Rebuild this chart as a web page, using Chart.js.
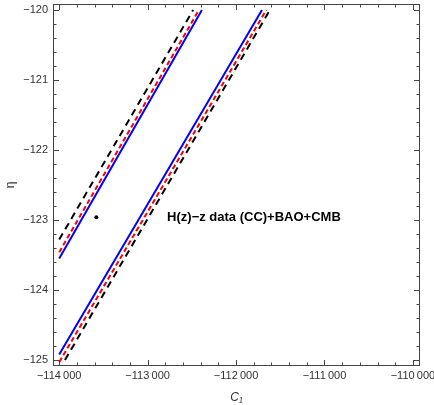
<!DOCTYPE html>
<html>
<head>
<meta charset="utf-8">
<script src="https://cdn.jsdelivr.net/npm/chart.js@4/dist/chart.umd.min.js"></script>
<style>
  html, body { margin: 0; padding: 0; background: #fff; }
  #wrap { width: 434px; height: 405px; }
</style>
</head>
<body>
<div id="wrap"><canvas id="grafico"></canvas></div>
<script>
// eixos
const xRange = [-114070, -109920];
const yRange = [-125.085, -119.915];
const xTicks = [-114000, -113000, -112000, -111000, -110000];
const yTicks = [-125, -124, -123, -122, -121, -120];

// faixa esquerda
const esqAzul = [[-114000, -123.55], [-112386, -120]];
const esqVermelho = [[-114000, -123.46], [-112420, -120]];
const esqPreto = [[-114000, -123.28], [-112485, -120]];

// faixa direita
const dirAzul = [[-114000, -124.92], [-111707, -120]];
const dirVermelho = [[-114000, -125.03], [-111658, -120]];
const dirPreto = [[-113935, -125.0], [-111617, -120]];

// ponto e legenda
const ponto = [[-113580, -122.96]];
const rotulo = { texto: 'H(z)\u2212z data (CC)+BAO+CMB', x: -112780, y: -122.97 };

const pts = arr => arr.map(([x, y]) => ({ x, y }));

function formatar(v) {
  const abs = Math.abs(v);
  let s = String(abs);
  if (abs >= 10000) s = s.replace(/\B(?=(\d{3})+(?!\d))/g, '\u2009');
  return (v < 0 ? '\u2212' : '') + s;
}

function linha(dados, cor, dash) {
  return {
    type: 'line',
    data: pts(dados),
    borderColor: cor,
    borderWidth: 2,
    borderDash: dash,
    pointRadius: 0,
    fill: false,
    tension: 0
  };
}

function semPadding(s) {
  s.paddingTop = 0;
  s.paddingBottom = 0;
  s.paddingLeft = 0;
  s.paddingRight = 0;
}

// moldura com marcas internas (estilo Mathematica)
const moldura = {
  id: 'moldura',
  afterDraw(chart) {
    const { ctx, chartArea: a, scales: { x, y } } = chart;
    ctx.save();
    ctx.strokeStyle = '#444';
    ctx.lineWidth = 1;
    ctx.strokeRect(a.left + 0.5, a.top + 0.5, a.right - a.left - 1, a.bottom - a.top - 1);

    ctx.beginPath();
    for (let v = -114000; v <= -110000; v += 200) {
      const px = Math.round(x.getPixelForValue(v)) + 0.5;
      const len = v % 1000 === 0 ? 6 : 3.5;
      ctx.moveTo(px, a.bottom); ctx.lineTo(px, a.bottom - len);
      ctx.moveTo(px, a.top); ctx.lineTo(px, a.top + len);
    }
    for (let i = -1250; i <= -1200; i += 2) {
      const v = i / 10;
      const py = Math.round(y.getPixelForValue(v)) + 0.5;
      const len = i % 10 === 0 ? 6 : 3.5;
      ctx.moveTo(a.left, py); ctx.lineTo(a.left + len, py);
      ctx.moveTo(a.right, py); ctx.lineTo(a.right - len, py);
    }
    ctx.stroke();

    ctx.fillStyle = '#000';
    ctx.font = 'bold 13px "Liberation Sans", Arial, sans-serif';
    ctx.textAlign = 'left';
    ctx.textBaseline = 'middle';
    ctx.fillText(rotulo.texto, x.getPixelForValue(rotulo.x), y.getPixelForValue(rotulo.y));
    ctx.restore();
  }
};

new Chart(document.getElementById('grafico'), {
  type: 'scatter',
  data: {
    datasets: [
      linha(esqPreto, '#000', [7, 5]),
      linha(esqVermelho, '#ff0000', [5, 3]),
      linha(esqAzul, '#0000ff', []),
      linha(dirPreto, '#000', [7, 5]),
      linha(dirVermelho, '#ff0000', [5, 3]),
      linha(dirAzul, '#0000ff', []),
      {
        type: 'scatter',
        data: pts(ponto),
        backgroundColor: '#000',
        borderWidth: 0,
        pointRadius: 2
      }
    ]
  },
  options: {
    responsive: true,
    maintainAspectRatio: false,
    animation: false,
    layout: { padding: { top: 0, right: 14, bottom: 0, left: 0 } },
    plugins: {
      legend: { display: false },
      tooltip: { enabled: false }
    },
    scales: {
      x: {
        type: 'linear',
        min: xRange[0],
        max: xRange[1],
        afterFit: s => { s.height = 39; semPadding(s); },
        afterBuildTicks: s => { s.ticks = xTicks.map(v => ({ value: v })); },
        grid: { display: false, drawTicks: false },
        border: { display: false },
        ticks: {
          padding: 3,
          maxRotation: 0,
          autoSkip: false,
          color: '#333',
          font: { family: '"Liberation Sans", Arial, sans-serif', size: 11 },
          callback: v => formatar(v)
        },
        title: {
          display: true,
          text: 'C\u2081',
          color: '#333',
          padding: { top: 5, bottom: 0 },
          font: { family: '"Liberation Sans", Arial, sans-serif', size: 12, style: 'italic' }
        }
      },
      y: {
        type: 'linear',
        min: yRange[0],
        max: yRange[1],
        afterFit: s => { s.width = 53; semPadding(s); },
        afterBuildTicks: s => { s.ticks = yTicks.map(v => ({ value: v })); },
        grid: { display: false, drawTicks: false },
        border: { display: false },
        ticks: {
          padding: 5,
          autoSkip: false,
          color: '#333',
          font: { family: '"Liberation Sans", Arial, sans-serif', size: 11 },
          callback: v => formatar(v)
        },
        title: {
          display: true,
          text: '\u03b7',
          color: '#333',
          padding: { top: 3, bottom: 0 },
          font: { family: '"Liberation Sans", Arial, sans-serif', size: 12 }
        }
      }
    }
  },
  plugins: [moldura]
});
</script>
</body>
</html>
